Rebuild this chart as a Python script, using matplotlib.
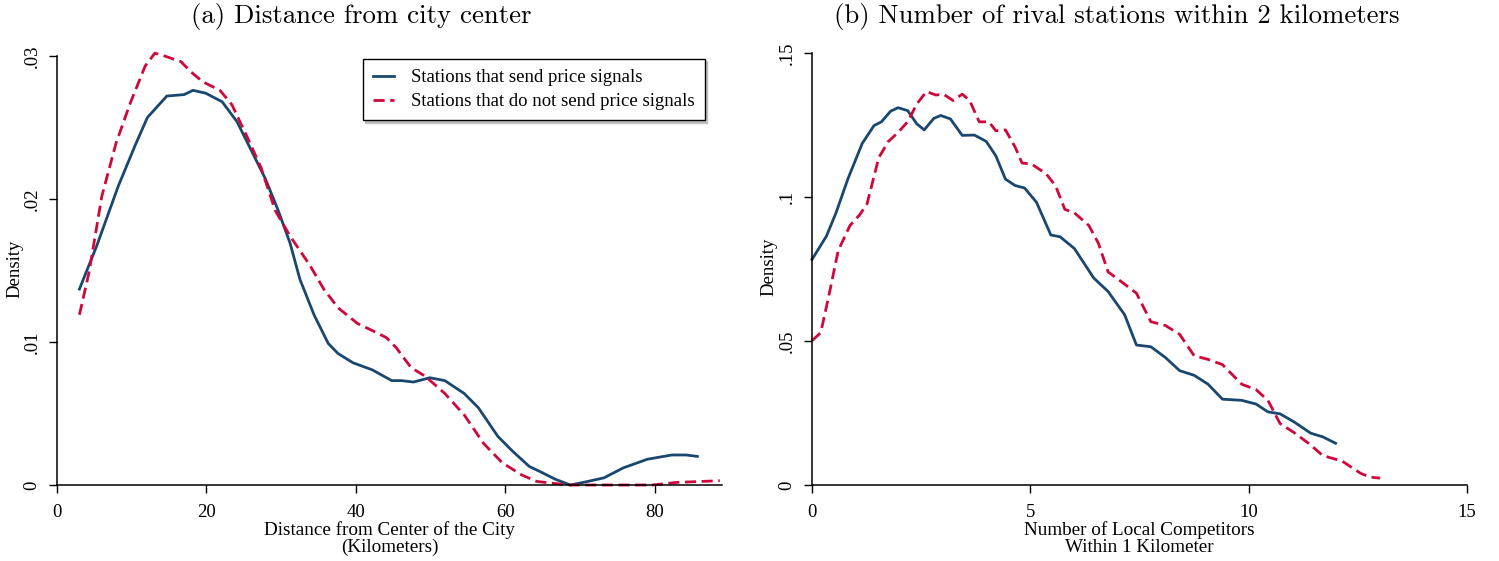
import matplotlib
matplotlib.use("Agg")
import matplotlib.pyplot as plt
from matplotlib.ticker import FixedLocator, FixedFormatter

plt.rcParams["font.family"] = ["Liberation Serif", "DejaVu Serif"]

BLUE = "#1a476f"
RED = "#d0073a"

# panel (a): distance from city center
dist_send_x = [3.0, 5.3, 8.2, 10.5, 12.1, 14.7, 17.0, 18.2, 19.9, 22.1, 24.1, 26.0,
               27.9, 29.6, 31.2, 32.5, 34.4, 36.3, 37.6, 39.6, 42.2, 44.8, 46.1, 47.7,
               49.9, 51.9, 54.5, 56.4, 59.0, 60.9, 63.2, 64.8, 66.7, 68.7, 70.6, 73.2,
               75.8, 79.0, 82.3, 84.2, 85.7]
dist_send_y = [0.0137, 0.0167, 0.0209, 0.0238, 0.0257, 0.0272, 0.0273, 0.0276, 0.0274,
               0.0268, 0.0254, 0.0234, 0.0214, 0.0192, 0.0169, 0.0144, 0.0119, 0.0099,
               0.0092, 0.00855, 0.00805, 0.0073, 0.0073, 0.0072, 0.0075, 0.0073, 0.0064,
               0.0054, 0.0034, 0.0024, 0.0013, 0.0009, 0.0004, 0.0, 0.0002, 0.0005,
               0.0012, 0.0018, 0.0021, 0.0021, 0.0020]

dist_nosend_x = [3.0, 4.3, 6.0, 7.9, 9.8, 11.8, 13.1, 14.4, 16.6, 17.9, 19.5, 21.8, 23.4,
                 25.4, 27.3, 29.2, 31.2, 33.8, 35.7, 37.6, 40.2, 42.2, 44.1, 45.4, 47.4,
                 49.3, 51.9, 54.5, 57.1, 59.6, 62.2, 64.2, 66.7, 68.7, 74.0, 79.7, 82.9,
                 88.7]
dist_nosend_y = [0.0119, 0.0149, 0.0202, 0.0239, 0.0267, 0.0293, 0.0302, 0.0300, 0.0296,
                 0.0289, 0.0282, 0.0276, 0.0266, 0.0244, 0.0222, 0.0192, 0.0174, 0.0154,
                 0.0137, 0.0124, 0.0113, 0.0108, 0.0103, 0.0096, 0.0082, 0.0076, 0.0064,
                 0.0049, 0.0029, 0.00155, 0.0007, 0.00025, 0.0001, 0.0, 0.0, 0.0,
                 0.00018, 0.0003]

# panel (b): number of rival stations
comp_send_x = [0.0, 0.33, 0.55, 0.82, 1.15, 1.42, 1.59, 1.80, 1.97, 2.19, 2.40, 2.57,
               2.79, 2.95, 3.17, 3.44, 3.72, 3.99, 4.21, 4.43, 4.65, 4.87, 5.14, 5.47,
               5.68, 6.01, 6.45, 6.78, 7.16, 7.43, 7.76, 8.09, 8.42, 8.75, 9.07, 9.40,
               9.84, 10.17, 10.44, 10.72, 11.04, 11.42, 11.70, 11.99]
comp_send_y = [0.0783, 0.0864, 0.0945, 0.1062, 0.1186, 0.1248, 0.1261, 0.1298, 0.1310,
               0.1300, 0.1254, 0.1233, 0.1273, 0.1283, 0.1271, 0.1214, 0.1215, 0.1193,
               0.1143, 0.1062, 0.1040, 0.1031, 0.0982, 0.0868, 0.0862, 0.0821, 0.0719,
               0.0672, 0.0591, 0.0486, 0.0480, 0.0443, 0.0397, 0.0381, 0.0350, 0.0298,
               0.0294, 0.0281, 0.0254, 0.0247, 0.0219, 0.0180, 0.0167, 0.0145]

comp_nosend_x = [0.0, 0.20, 0.38, 0.60, 0.87, 1.09, 1.26, 1.53, 1.75, 1.97, 2.19, 2.40,
                 2.62, 2.84, 3.01, 3.23, 3.44, 3.61, 3.83, 4.05, 4.21, 4.43, 4.65, 4.81,
                 5.03, 5.36, 5.58, 5.79, 6.01, 6.34, 6.56, 6.78, 7.11, 7.43, 7.76, 8.09,
                 8.42, 8.75, 9.07, 9.40, 9.84, 10.17, 10.44, 10.72, 11.04, 11.37, 11.70,
                 12.14, 12.57, 12.79, 13.01]
comp_nosend_y = [0.0501, 0.0529, 0.0653, 0.0814, 0.0901, 0.0938, 0.0976, 0.1137, 0.1193,
                 0.1224, 0.1261, 0.1323, 0.1366, 0.1354, 0.1357, 0.1335, 0.1357, 0.1335,
                 0.1261, 0.1261, 0.1230, 0.1233, 0.1174, 0.1118, 0.1114, 0.1081, 0.1038,
                 0.0957, 0.0945, 0.0901, 0.0839, 0.0740, 0.0703, 0.0666, 0.0567, 0.0554,
                 0.0523, 0.0449, 0.0436, 0.0418, 0.0350, 0.0331, 0.0294, 0.0213, 0.0182,
                 0.0145, 0.0102, 0.0083, 0.0040, 0.0027, 0.0024]

a_xticks = [0, 20, 40, 60, 80]
a_yticks = [0, 0.01, 0.02, 0.03]
a_ylabels = ["0", ".01", ".02", ".03"]
b_xticks = [0, 5, 10, 15]
b_yticks = [0, 0.05, 0.10, 0.15]
b_ylabels = ["0", ".05", ".1", ".15"]

W, H = 1499, 561
fig = plt.figure(figsize=(W / 100, H / 100), dpi=100)


def px_axes(x0, x1, ytop, ybot):
    return fig.add_axes([x0 / W, 1 - ybot / H, (x1 - x0) / W, (ybot - ytop) / H])


def style(ax, xticks, yticks, ylabels, xlim, ylim, ylab_x):
    ax.set_xlim(*xlim)
    ax.set_ylim(*ylim)
    for s in ("top", "right"):
        ax.spines[s].set_visible(False)
    for s in ("left", "bottom"):
        ax.spines[s].set_linewidth(1.1)
    ax.xaxis.set_major_locator(FixedLocator(xticks))
    ax.yaxis.set_major_locator(FixedLocator(yticks))
    ax.yaxis.set_major_formatter(FixedFormatter(ylabels))
    ax.tick_params(direction="out", length=6, width=1.0, labelsize=13.5)
    ax.tick_params(axis="x", pad=8)
    ax.tick_params(axis="y", pad=6)
    for lab in ax.get_yticklabels():
        lab.set_rotation(90)
        lab.set_va("center")
    ax.set_ylabel("Density", fontsize=13.5, va="center")
    ax.yaxis.set_label_coords(ylab_x, 0.505)


lw = 2.0
dash = (4, 2)

ax1 = px_axes(57, 722, 56, 485)
ax1.plot(dist_send_x, dist_send_y, color=BLUE, lw=lw, clip_on=False,
         label="Stations that send price signals")
ax1.plot(dist_nosend_x, dist_nosend_y, color=RED, lw=lw, dashes=dash, clip_on=False,
         label="Stations that do not send price signals")
style(ax1, a_xticks, a_yticks, a_ylabels, (0, 89), (0, 0.03), (15 - 57) / 665)
ax1.set_xlabel("Distance from Center of the City\n(Kilometers)", fontsize=13.8,
               labelpad=0, linespacing=0.95)
leg = ax1.legend(loc="upper right", bbox_to_anchor=(0.974, 0.993), fontsize=13.5,
                 frameon=True, fancybox=False,
                 shadow={"ox": 1.5, "oy": -1.5, "color": "0.75", "alpha": 1.0},
                 handlelength=1.1, borderpad=0.55, labelspacing=0.35,
                 handletextpad=0.9, borderaxespad=0)
leg.get_frame().set_edgecolor("black")
leg.get_frame().set_linewidth(1.0)

ax2 = px_axes(812, 1467, 53, 485)
ax2.plot(comp_send_x, comp_send_y, color=BLUE, lw=lw, clip_on=False)
ax2.plot(comp_nosend_x, comp_nosend_y, color=RED, lw=lw, dashes=dash, clip_on=False)
style(ax2, b_xticks, b_yticks, b_ylabels, (0, 15), (0, 0.15), (769 - 812) / 655)
ax2.set_xlabel("Number of Local Competitors\nWithin 1 Kilometer", fontsize=13.8,
               labelpad=0, linespacing=0.95)

fig.text(361 / W, 1 - 16 / H, "(a) Distance from city center", family="cmr10",
         fontsize=19.3, ha="center", va="center")
fig.text(1117 / W, 1 - 16 / H, "(b) Number of rival stations within 2 kilometers",
         family="cmr10", fontsize=19.3, ha="center", va="center")

fig.savefig("out.png", dpi=100)
